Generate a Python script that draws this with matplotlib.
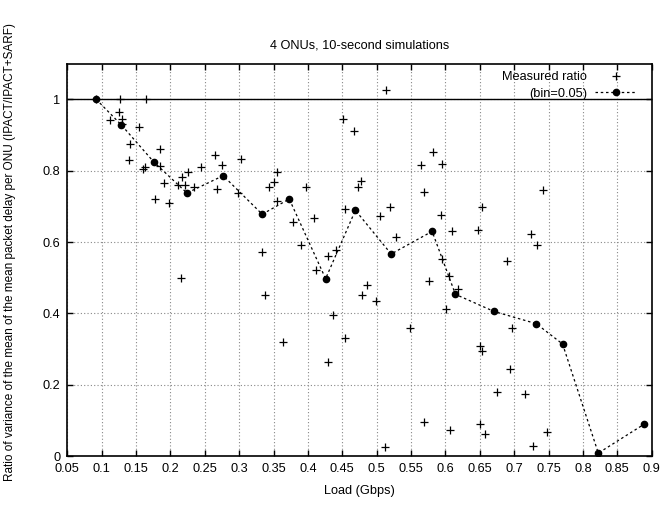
import matplotlib

matplotlib.use("Agg")

import matplotlib.pyplot as plt

plt.rcParams["font.family"] = ["Liberation Sans", "DejaVu Sans"]

# measured ratio, one point per run (load in Gbps, ratio)
measured_load = [
    0.127, 0.165, 0.125, 0.112, 0.130, 0.129, 0.154, 0.141, 0.1855, 0.140,
    0.1855, 0.160, 0.163, 0.2257, 0.244, 0.2655, 0.275, 0.302, 0.217, 0.2116,
    0.221, 0.234, 0.190, 0.1777, 0.1985, 0.268, 0.2985, 0.5136, 0.451, 0.4675,
    0.564, 0.582, 0.355, 0.350, 0.3437, 0.3966, 0.477, 0.473, 0.5684, 0.520,
    0.355, 0.454, 0.3776, 0.4093, 0.5053, 0.5286, 0.3898, 0.3325, 0.4412, 0.429,
    0.4117, 0.5757, 0.338, 0.4864, 0.479, 0.4985, 0.4365, 0.548, 0.454, 0.364,
    0.594, 0.6534, 0.610, 0.647, 0.7237, 0.7335, 0.6888, 0.5946, 0.6048, 0.618,
    0.6015, 0.6966, 0.650, 0.5952, 0.742, 0.6534, 0.694, 0.6753, 0.716, 0.6073,
    0.650, 0.6582, 0.7475, 0.7267, 0.4286, 0.5684, 0.512, 0.216, 0.092,
]
measured_ratio = [
    1.0, 1.0, 0.964, 0.941, 0.944, 0.930, 0.922, 0.874, 0.862, 0.830,
    0.813, 0.806, 0.810, 0.797, 0.810, 0.844, 0.815, 0.834, 0.7815, 0.759,
    0.760, 0.7535, 0.7655, 0.7216, 0.7095, 0.748, 0.737, 1.025, 0.944, 0.910,
    0.817, 0.8515, 0.796, 0.769, 0.754, 0.755, 0.770, 0.7535, 0.7395, 0.699,
    0.714, 0.6927, 0.6555, 0.6667, 0.673, 0.615, 0.591, 0.572, 0.578, 0.560,
    0.5227, 0.491, 0.4527, 0.4807, 0.451, 0.436, 0.395, 0.360, 0.3305, 0.320,
    0.675, 0.699, 0.631, 0.635, 0.6236, 0.593, 0.547, 0.5527, 0.506, 0.4686,
    0.4117, 0.3585, 0.310, 0.819, 0.746, 0.294, 0.2455, 0.180, 0.1745, 0.0737,
    0.0896, 0.0625, 0.067, 0.029, 0.264, 0.095, 0.025, 0.500, 1.0,
]

# binned mean (bin = 0.05)
bin_load = [0.092, 0.1287, 0.176, 0.224, 0.2767, 0.3335, 0.3728, 0.4257, 0.469,
            0.521, 0.5806, 0.6145, 0.6703, 0.732, 0.7703, 0.8223, 0.8887]
bin_ratio = [1.0, 0.928, 0.824, 0.7375, 0.786, 0.678, 0.7207, 0.4975, 0.689,
             0.5667, 0.630, 0.4537, 0.406, 0.3715, 0.3146, 0.009, 0.0896]

ref_level = 1.0

x_ticks = [0.05, 0.1, 0.15, 0.2, 0.25, 0.3, 0.35, 0.4, 0.45, 0.5, 0.55, 0.6,
           0.65, 0.7, 0.75, 0.8, 0.85, 0.9]
x_tick_labels = ["0.05", "0.1", "0.15", "0.2", "0.25", "0.3", "0.35", "0.4", "0.45",
                 "0.5", "0.55", "0.6", "0.65", "0.7", "0.75", "0.8", "0.85", "0.9"]
y_ticks = [0, 0.2, 0.4, 0.6, 0.8, 1.0]
y_tick_labels = ["0", "0.2", "0.4", "0.6", "0.8", "1"]

FS = 9.2

fig = plt.figure(figsize=(6.61, 5.17), dpi=100)
ax = fig.add_axes([0.1018, 0.1174, 0.8842, 0.7596])

ax.axhline(ref_level, color="black", linewidth=1.0, zorder=2)
ax.plot(measured_load, measured_ratio, linestyle="none", marker="+", markersize=6,
        markeredgewidth=0.9, color="black", label="Measured ratio", zorder=3)
ax.plot(bin_load, bin_ratio, linestyle=(0, (2, 2.2)), linewidth=0.9, marker="o",
        markersize=4.5, color="black", label="(bin=0.05)", zorder=4)

ax.set_xlim(0.05, 0.9)
ax.set_ylim(0, 1.1)
ax.set_xticks(x_ticks)
ax.set_xticklabels(x_tick_labels, fontsize=FS)
ax.set_yticks(y_ticks)
ax.set_yticklabels(y_tick_labels, fontsize=FS)
ax.tick_params(direction="in", length=4, width=1, top=True, right=True, pad=5)
ax.grid(True, color="#888888", linestyle=(0, (1, 2)), linewidth=0.8)
for spine in ax.spines.values():
    spine.set_linewidth(1.2)

ax.set_title("4 ONUs, 10-second simulations", fontsize=FS, pad=11)
ax.set_xlabel("Load (Gbps)", fontsize=FS, labelpad=7)
ax.set_ylabel("Ratio of variance of the mean of the mean packet delay per ONU (IPACT/IPACT+SARF)",
              fontsize=8.5)
ax.yaxis.set_label_coords(-0.088, 0.52)

ax.legend(loc="upper right", bbox_to_anchor=(0.9875, 1.0), frameon=False,
          markerfirst=False, fontsize=FS, handlelength=3.3, handletextpad=0.6,
          labelspacing=0.35, borderaxespad=0.2)

fig.savefig("out.png", dpi=100)
plt.close(fig)
